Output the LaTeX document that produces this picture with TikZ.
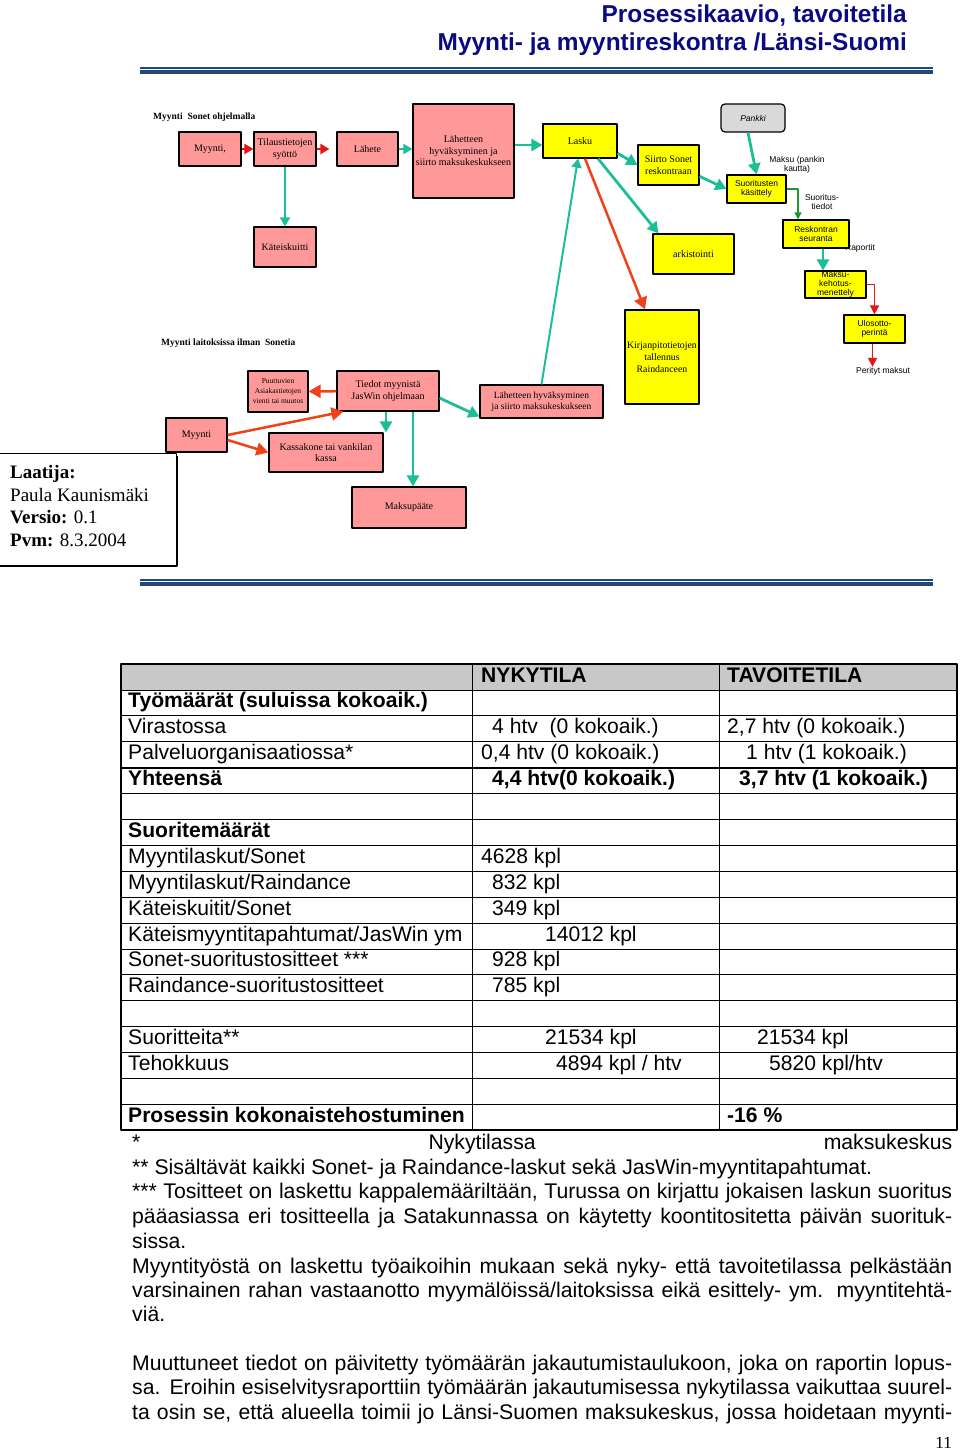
\documentclass[tikz,border=0pt]{standalone}
\usepackage{fontspec}
\setmainfont{Liberation Serif}
\setsansfont{Liberation Sans}
\usetikzlibrary{arrows.meta}
\definecolor{pinkfill}{RGB}{255,153,153}
\definecolor{yellowfill}{RGB}{255,255,0}
\definecolor{bankgray}{RGB}{217,217,217}
\definecolor{tealarr}{RGB}{28,190,152}
\definecolor{redarr}{RGB}{230,20,20}
\definecolor{orangearr}{RGB}{240,66,24}
\definecolor{greenarr}{RGB}{30,150,50}
\definecolor{navytext}{RGB}{10,10,130}
\definecolor{rulecol}{RGB}{31,73,125}
\definecolor{headgray}{RGB}{200,200,200}
\begin{document}
\begin{tikzpicture}[x=1pt, y=-1pt, line join=round,
  flowbox/.style={draw, line width=1.2pt, inner sep=1pt, align=center, font=\fontsize{10}{11.5}\selectfont},
  pinkbox/.style={flowbox, fill=pinkfill},
  yellowbox/.style={flowbox, fill=yellowfill},
  sansbox/.style={yellowbox, font=\sffamily\fontsize{8.5}{9.5}\selectfont},
  note/.style={font=\sffamily\fontsize{8.5}{9.5}\selectfont, align=center, inner sep=0pt},
  heading/.style={font=\bfseries\fontsize{9.5}{11}\selectfont, anchor=base west, inner sep=0pt},
  headline/.style={font=\sffamily\bfseries\fontsize{24.4}{28}\selectfont, text=navytext, anchor=base east, inner sep=0pt},
  tealline/.style={draw=tealarr, line width=2.8pt, -{Triangle[length=11pt,width=12pt]}},
  tealthin/.style={draw=tealarr, line width=2pt, -{Triangle[length=9pt,width=10pt]}},
  redline/.style={draw=redarr, line width=2.2pt, -{Triangle[length=9pt,width=10pt]}},
  redthin/.style={draw=redarr, line width=1.5pt, -{Triangle[length=9pt,width=9pt]}},
  orangeline/.style={draw=orangearr, line width=2.5pt, -{Triangle[length=12pt,width=13pt]}},
  greenline/.style={draw=greenarr, line width=1.5pt, -{Triangle[length=7pt,width=7pt]}},
  cell/.style={font=\sffamily\fontsize{21.1}{24}\selectfont, anchor=base west, inner sep=0pt},
  foot/.style={font=\sffamily\fontsize{21.2}{24}\selectfont, anchor=base west, inner sep=0pt}]
\useasboundingbox (0,0) rectangle (960,1450);

\node[headline] (title1) at (907,23) {Prosessikaavio, tavoitetila};
\node[headline] (title2) at (907,51) {Myynti- ja myyntireskontra /Länsi-Suomi};
\foreach \y in {68,580} {
  \draw[rulecol, line width=1.2pt] (140,\y) -- (933,\y);
  \draw[rulecol, line width=3.5pt] (140,{\y+3.8}) -- (933,{\y+3.8});
}

\node[heading] (sonetlbl) at (153,119.5) {Myynti\ \ Sonet ohjelmalla};
\node[heading] (ilmanlbl) at (161,345.5) {Myynti laitoksissa ilman\ \ Sonetia};

\node[pinkbox, minimum width=62pt, minimum height=34pt] (myyntiA) at (210,149) {Myynti,};
\node[pinkbox, minimum width=62pt, minimum height=34pt] (tilaus) at (285,149) {Tilaustietojen\\syöttö};
\node[pinkbox, minimum width=61pt, minimum height=34pt] (lahete) at (367.5,149) {Lähete};
\node[pinkbox, minimum width=101pt, minimum height=94pt] (hyvA) at (463.5,151) {Lähetteen\\hyväksyminen ja\\siirto maksukeskukseen};
\node[pinkbox, minimum width=62pt, minimum height=40pt] (kuitti) at (285,247) {Käteiskuitti};
\node[pinkbox, minimum width=60pt, minimum height=41pt, font=\fontsize{7.5}{10}\selectfont] (puuttuvat) at (278,391.5) {Puuttuvien\\Asiakastietojen\\vienti tai muutos};
\node[pinkbox, minimum width=102pt, minimum height=40pt] (tiedot) at (388,391) {Tiedot myynistä\\JasWin ohjelmaan};
\node[pinkbox, minimum width=123pt, minimum height=33pt, font=\fontsize{9.5}{11}\selectfont] (hyvB) at (541.5,401.5) {Lähetteen hyväksyminen\\ja siirto maksukeskukseen};
\node[pinkbox, minimum width=114pt, minimum height=39pt] (kassa) at (326,452.5) {Kassakone tai vankilan\\kassa};
\node[pinkbox, minimum width=114pt, minimum height=41pt] (paate) at (409,507.5) {Maksupääte};

\node[yellowbox, minimum width=74pt, minimum height=34pt] (lasku) at (580,141) {Lasku};
\node[yellowbox, minimum width=61pt, minimum height=40pt] (siirto) at (668.5,165) {Siirto Sonet\\reskontraan};
\node[yellowbox, minimum width=81pt, minimum height=40pt] (arkisto) at (693.5,254) {arkistointi};
\node[yellowbox, minimum width=74pt, minimum height=94pt, font=\fontsize{9.8}{12}\selectfont] (kirjanpito) at (662,357) {Kirjanpitotietojen\\tallennus\\Raindanceen};
\node[flowbox, fill=bankgray, rounded corners=4pt, minimum width=64pt, minimum height=28pt, font=\sffamily\itshape\fontsize{8.5}{9.5}\selectfont] (pankki) at (753,118) {Pankki};
\node[sansbox, minimum width=59pt, minimum height=28pt] (suoritus) at (756.5,189) {Suoritusten\\käsittely};
\node[note] (maksulbl) at (797,165) {Maksu (pankin\\kautta)};
\node[note] (tiedotlbl) at (822,202) {Suoritus-\\tiedot};
\node[note] (raportit) at (860,248) {Raportit};
\node[sansbox, minimum width=66pt, minimum height=28pt] (seuranta) at (816,234) {Reskontran\\seuranta};
\node[sansbox, minimum width=61pt, minimum height=27pt, inner ysep=0pt, font=\sffamily\fontsize{8.5}{9}\selectfont] (kehotus) at (835.5,284.5) {Maksu-\\kehotus-\\menettely};
\node[sansbox, minimum width=61pt, minimum height=28pt] (ulosotto) at (874.5,329) {Ulosotto-\\perintä};
\node[note] (perityt) at (883,371) {Perityt maksut};

\draw[redline] (myyntiA) -- (tilaus);
\draw[redline] (tilaus) -- ([xshift=-7pt]lahete.west);
\draw[tealthin] (lahete) -- (hyvA.west |- lahete);
\draw[tealline] ([yshift=-4pt]lasku.west -| hyvA.east) -- ([yshift=-4pt]lasku.west);
\draw[tealthin] (tilaus) -- (kuitti);
\draw[tealline] (lasku.-18) -- (siirto.west);
\draw[tealline] (siirto.-20) -- (suoritus.west);
\draw[tealline] ([xshift=-5pt]pankki.south) -- (suoritus.north);
\draw[greenline] (suoritus.east) -| ([xshift=-18pt]seuranta.north);
\draw[tealline] ([xshift=7pt]seuranta.south) -- ([xshift=7pt]seuranta.south |- kehotus.north);
\draw[redthin] (kehotus.east) -| (ulosotto.north);
\draw[redthin] ([xshift=-2pt]ulosotto.south) -- ([xshift=-2pt]ulosotto.south |- perityt.north);
\draw[tealline] ([xshift=18pt]lasku.south) -- ([xshift=-35pt]arkisto.north);
\draw[orangeline] ([xshift=5pt]lasku.south) -- ([xshift=-17pt]kirjanpito.north);
\draw[tealthin] (hyvB.north) -- ([xshift=-2pt]lasku.south);

\node[draw, line width=1pt, fill=white, minimum width=180pt, minimum height=112pt, anchor=north west, inner sep=0pt] (infobox) at (-4,453) {};
\draw[line width=2.5pt] ([yshift=-3pt]infobox.north east) -- (infobox.south east) -- (infobox.south west);
\node[anchor=north west, align=left, inner sep=0pt, font=\fontsize{19}{22.7}\selectfont] (laatija) at (10,465) {\textbf{Laatija:}\\Paula Kaunismäki\\\textbf{Versio:} 0.1\\\textbf{Pvm:} 8.3.2004};
\node[pinkbox, minimum width=61pt, minimum height=34pt] (myyntiB) at (196.5,435) {Myynti};

\draw[orangeline] (tiedot) -- (puuttuvat);
\draw[orangeline] (myyntiB.east) -- ([xshift=7pt]tiedot.south west);
\draw[orangeline] ([yshift=-5pt]myyntiB.east) -- (kassa.west);
\draw[tealline] ([xshift=-2pt]tiedot.south) -- ([xshift=-2pt]tiedot.south |- kassa.north);
\draw[tealline] ([xshift=25pt]tiedot.south) -- ([xshift=25pt]tiedot.south |- paate.north);
\draw[tealline] ([yshift=-7pt]tiedot.east) -- ([yshift=-15pt]hyvB.west);

\fill[headgray] (121,664) rectangle (957,689.9);
\foreach \r in {1,...,17}
  \draw[line width=0.8pt] (121,{664+25.9*\r}) -- (957,{664+25.9*\r});
\draw[line width=2pt] (121,{664+25.9*4}) -- (957,{664+25.9*4});
\foreach \x in {472,719}
  \draw[line width=0.8pt] (\x,664) -- (\x,1130.2);
\draw[line width=2.5pt] (121,664) rectangle (957,1130.2);

\foreach \r/\t in {1/{\bfseries Työmäärät (suluissa kokoaik.)}, 2/Virastossa, 3/Palveluorganisaatiossa*, 4/{\bfseries Yhteensä},
  6/{\bfseries Suoritemäärät}, 7/{Myyntilaskut/Sonet}, 8/{Myyntilaskut/Raindance}, 9/{Käteiskuitit/Sonet},
  10/{Käteismyyntitapahtumat/JasWin ym}, 11/{Sonet-suoritustositteet ***}, 12/{Raindance-suoritustositteet},
  14/{Suoritteita**}, 15/Tehokkuus, 17/{\bfseries Prosessin kokonaistehostuminen}}
  \node[cell] (lab\r) at (128,{682+25.9*\r}) {\t};
\foreach \r/\x/\t in {0/481/{\bfseries NYKYTILA}, 2/492/{4 htv\ \ (0 kokoaik.)}, 3/481/{0,4 htv (0 kokoaik.)},
  4/492/{\bfseries 4,4 htv(0 kokoaik.)}, 7/481/{4628 kpl}, 8/492/{832 kpl}, 9/492/{349 kpl}, 10/545/{14012 kpl},
  11/492/{928 kpl}, 12/492/{785 kpl}, 14/545/{21534 kpl}, 15/556/{4894 kpl / htv}}
  \node[cell] (now\r) at (\x,{682+25.9*\r}) {\t};
\foreach \r/\x/\t in {0/727/{\bfseries TAVOITETILA}, 2/727/{2,7 htv (0 kokoaik.)}, 3/746/{1 htv (1 kokoaik.)},
  4/739/{\bfseries 3,7 htv (1 kokoaik.)}, 14/757/{21534 kpl}, 15/769/{5820 kpl/htv}, 17/727/{\bfseries -16 \%}}
  \node[cell] (goal\r) at (\x,{682+25.9*\r}) {\t};

\node[foot] (fn1) at (132,1149) {\makebox[820pt][s]{* Nykytilassa maksukeskus}};
\node[foot] (fn2) at (132,1174) {** Sisältävät kaikki Sonet- ja Raindance-laskut sekä JasWin-myyntitapahtumat.};
\node[foot] (fn3) at (132,1198) {\makebox[820pt][s]{*** Tositteet on laskettu kappalemääriltään, Turussa on kirjattu jokaisen laskun suoritus}};
\node[foot] (fn4) at (132,1223) {\makebox[820pt][s]{pääasiassa eri tositteella ja Satakunnassa on käytetty koontitositetta päivän suorituk-}};
\node[foot] (fn5) at (132,1248) {sissa.};
\node[foot] (fn6) at (132,1273) {\makebox[820pt][s]{Myyntityöstä on laskettu työaikoihin mukaan sekä nyky- että tavoitetilassa pelkästään}};
\node[foot] (fn7) at (132,1297) {\makebox[820pt][s]{varsinainen rahan vastaanotto myymälöissä/laitoksissa eikä esittely- ym. myyntitehtä-}};
\node[foot] (fn8) at (132,1321) {viä.};
\node[foot] (fn9) at (132,1370) {\makebox[820pt][s]{Muuttuneet tiedot on päivitetty työmäärän jakautumistaulukoon, joka on raportin lopus-}};
\node[foot] (fn10) at (132,1394) {\makebox[820pt][s]{sa. Eroihin esiselvitysraporttiin työmäärän jakautumisessa nykytilassa vaikuttaa suurel-}};
\node[foot] (fn11) at (132,1419) {\makebox[820pt][s]{ta osin se, että alueella toimii jo Länsi-Suomen maksukeskus, jossa hoidetaan myynti-}};
\node[anchor=base east, inner sep=0pt, font=\fontsize{17}{17}\selectfont] (pagenum) at (952,1448) {11};
\end{tikzpicture}
\end{document}
